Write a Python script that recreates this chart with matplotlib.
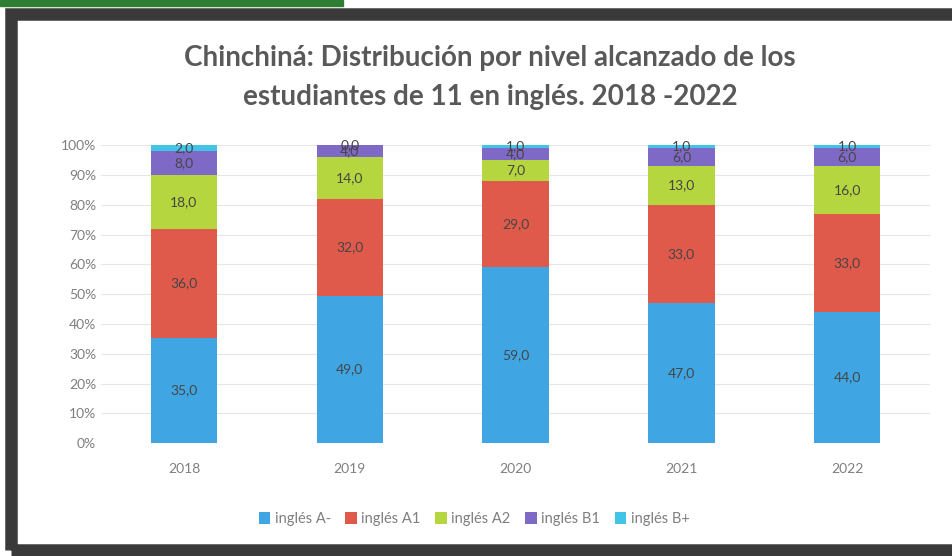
import matplotlib.pyplot as plt
import numpy as np
from matplotlib.patches import Rectangle

plt.rcParams['font.family'] = ['Lato', 'DejaVu Sans']

years = ['2018', '2019', '2020', '2021', '2022']
series_names = ['inglés A-', 'inglés A1', 'inglés A2', 'inglés B1', 'inglés B+']
a_minus = [35.0, 49.0, 59.0, 47.0, 44.0]
a1 = [36.0, 32.0, 29.0, 33.0, 33.0]
a2 = [18.0, 14.0, 7.0, 13.0, 16.0]
b1 = [8.0, 4.0, 4.0, 6.0, 6.0]
b_plus = [2.0, 0.0, 1.0, 1.0, 1.0]

colors = ['#3fa6e3', '#e05a4c', '#b5d63e', '#7f69c6', '#41c4e6']

series = np.array([a_minus, a1, a2, b1, b_plus])
totals = series.sum(axis=0)
shares = series / totals * 100

fig = plt.figure(figsize=(9.53, 5.56), dpi=100)

# photo frame
fig.patches.append(Rectangle((0, 0.99), 0.36, 0.01, transform=fig.transFigure,
                             color='#2e7d32', zorder=0))
fig.patches.append(Rectangle((0.012, 0.01), 0.99, 0.965, transform=fig.transFigure,
                             fill=False, edgecolor='#3a3a3a', linewidth=9, zorder=0))

ax = fig.add_axes([0.106, 0.203, 0.87, 0.536])
x = np.arange(len(years))
bottom = np.zeros(len(years))
for i, name in enumerate(series_names):
    bars = ax.bar(x, shares[i], 0.4, bottom=bottom, color=colors[i], label=name, zorder=2)
    for j, rect in enumerate(bars):
        ax.text(rect.get_x() + rect.get_width() / 2, bottom[j] + shares[i][j] / 2,
                f'{series[i][j]:.1f}'.replace('.', ','), ha='center', va='center',
                fontsize=10, color='#454545', zorder=3)
    bottom += shares[i]

ax.set_xlim(-0.5, len(years) - 0.5)
ax.set_ylim(0, 100)
ax.set_yticks(np.arange(0, 101, 10))
ax.set_yticklabels([f'{v}%' for v in range(0, 101, 10)])
ax.set_xticks(x)
ax.set_xticklabels(years)
ax.tick_params(length=0, colors='#7f7f7f', labelsize=10)
ax.tick_params(axis='x', pad=14)
ax.grid(axis='y', color='#e6e6e6', linewidth=0.8, zorder=0)
for s in ax.spines.values():
    s.set_visible(False)

fig.text(0.514, 0.861, 'Chinchiná: Distribución por nivel alcanzado de los\nestudiantes de 11 en inglés. 2018 -2022',
         ha='center', va='center', fontsize=20, fontweight='bold', color='#595959',
         linespacing=1.6)

ax.legend(loc='center', bbox_to_anchor=(0.45, -0.255), ncol=5, frameon=False,
          fontsize=10.5, handlelength=0.8, handleheight=0.8, handletextpad=0.3,
          columnspacing=1.0, labelcolor='#7f7f7f')

fig.savefig('out.png', dpi=100)
